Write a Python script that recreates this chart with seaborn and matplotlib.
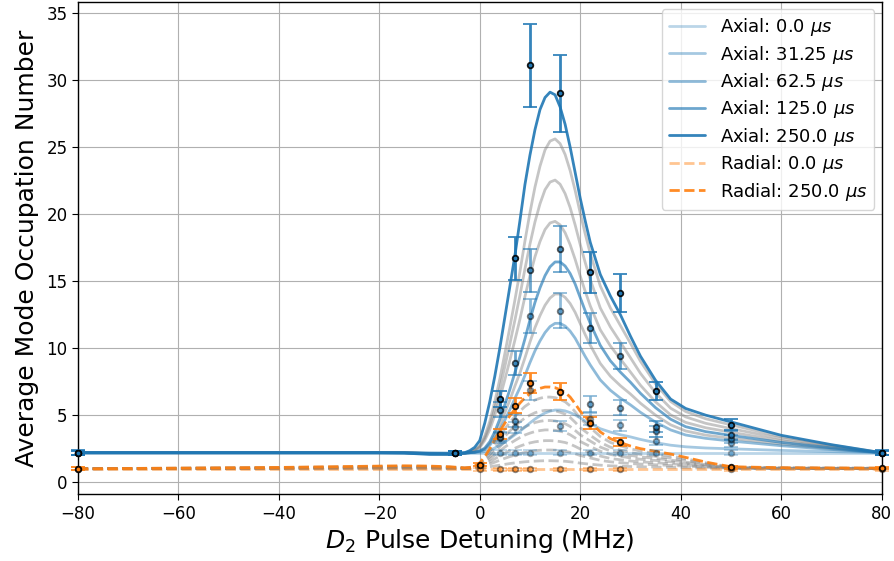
import numpy as np
import pandas as pd
import matplotlib
matplotlib.use("Agg")
import matplotlib.pyplot as plt
import seaborn as sns

# ---------------- model curves ----------------
model_x = [-80, -40, -20, -15, -10, -6, -3, -2, -1, 0, 1, 2, 3, 4, 5, 6, 7, 8, 9, 10,
           11, 12, 13, 14, 15, 16, 17, 18, 19, 20, 21, 22, 24, 26, 28, 30, 32, 35, 38,
           41, 45, 50, 60, 70, 80]

axial_times = [0.0, 31.25, 62.5, 93.75, 125.0, 156.25, 187.5, 218.75, 250.0]
axial_labeled = [0.0, 31.25, 62.5, 125.0, 250.0]

axial_0 = [2.2] * 45
axial_31 = [2.2, 2.2, 2.2, 2.2, 2.19, 2.18, 2.19, 2.2, 2.21, 2.23, 2.28, 2.38, 2.55, 2.76, 3.0,
            3.26, 3.54, 3.8, 4.1, 4.42, 4.71, 4.95, 5.16, 5.3, 5.38, 5.38, 5.32, 5.19, 5.02, 4.79,
            4.57, 4.36, 3.99, 3.74, 3.54, 3.38, 3.19, 2.95, 2.76, 2.64, 2.55, 2.49, 2.37, 2.28, 2.2]
axial_62 = [2.2, 2.2, 2.2, 2.2, 2.16, 2.15, 2.17, 2.2, 2.23, 2.3, 2.43, 2.75, 3.27, 3.91, 4.63,
            5.4, 6.25, 7.05, 7.96, 8.92, 9.8, 10.54, 11.16, 11.61, 11.85, 11.85, 11.65, 11.27, 10.74, 10.06,
            9.38, 8.75, 7.63, 6.86, 6.27, 5.77, 5.21, 4.48, 3.9, 3.52, 3.27, 3.07, 2.72, 2.44, 2.2]
axial_93 = [2.2, 2.2, 2.2, 2.2, 2.15, 2.14, 2.16, 2.2, 2.24, 2.32, 2.49, 2.88, 3.51, 4.29, 5.18,
            6.13, 7.17, 8.15, 9.27, 10.45, 11.53, 12.43, 13.2, 13.74, 14.04, 14.04, 13.79, 13.33, 12.67, 11.84,
            11.01, 10.23, 8.86, 7.91, 7.2, 6.58, 5.89, 5.0, 4.28, 3.82, 3.51, 3.27, 2.84, 2.5, 2.2]
axial_125 = [2.2, 2.2, 2.2, 2.2, 2.14, 2.13, 2.16, 2.2, 2.24, 2.34, 2.54, 3.02, 3.77, 4.72, 5.78,
             6.92, 8.18, 9.35, 10.69, 12.11, 13.41, 14.5, 15.41, 16.07, 16.43, 16.43, 16.13, 15.57, 14.78, 13.78,
             12.78, 11.85, 10.21, 9.06, 8.21, 7.46, 6.63, 5.56, 4.7, 4.14, 3.77, 3.49, 2.97, 2.56, 2.2]
axial_156 = [2.2, 2.2, 2.2, 2.2, 2.13, 2.11, 2.17, 2.25, 2.36, 2.58, 3.12, 3.92, 5.0, 6.25, 7.65,
             9.09, 10.59, 12.15, 13.84, 15.41, 16.82, 17.96, 18.85, 19.34, 19.46, 19.2, 18.61, 17.72, 16.62, 15.39,
             14.24, 13.16, 11.37, 10.17, 9.19, 8.22, 7.23, 5.99, 5.02, 4.46, 4.06, 3.73, 3.09, 2.62, 2.2]
axial_187 = [2.2, 2.2, 2.2, 2.2, 2.12, 2.1, 2.16, 2.26, 2.38, 2.65, 3.29, 4.23, 5.5, 6.98, 8.62,
             10.32, 12.08, 13.93, 15.91, 17.76, 19.42, 20.77, 21.82, 22.39, 22.54, 22.23, 21.53, 20.49, 19.19, 17.74,
             16.39, 15.12, 13.0, 11.59, 10.44, 9.29, 8.12, 6.67, 5.52, 4.87, 4.39, 4.0, 3.25, 2.69, 2.2]
axial_218 = [2.2, 2.2, 2.2, 2.2, 2.11, 2.08, 2.15, 2.27, 2.41, 2.72, 3.45, 4.54, 6.0, 7.7, 9.59,
             11.55, 13.58, 15.7, 17.99, 20.11, 22.02, 23.58, 24.79, 25.45, 25.61, 25.26, 24.45, 23.25, 21.76, 20.09,
             18.53, 17.07, 14.64, 13.01, 11.69, 10.37, 9.02, 7.34, 6.02, 5.27, 4.73, 4.28, 3.4, 2.77, 2.2]
axial_250 = [2.2, 2.2, 2.2, 2.17, 2.07, 2.07, 2.2, 2.35, 2.6, 3.1, 4.4, 6.0, 7.9, 10.0, 12.3,
             14.6, 16.9, 19.5, 22.2, 24.4, 26.3, 27.8, 28.7, 29.1, 28.9, 28.0, 26.7, 25.0, 23.1, 21.2,
             19.5, 17.9, 15.5, 13.9, 12.5, 10.9, 9.4, 7.6, 6.2, 5.5, 5.0, 4.5, 3.5, 2.8, 2.2]

radial_0 = [0.97] * 45
radial_31 = [1.0, 1.01, 1.02, 1.02, 1.02, 1.01, 1.01, 1.01, 1.02, 1.04, 1.09, 1.15, 1.21, 1.27, 1.33,
             1.39, 1.44, 1.48, 1.52, 1.55, 1.57, 1.59, 1.6, 1.6, 1.59, 1.58, 1.56, 1.52, 1.48, 1.42,
             1.38, 1.34, 1.27, 1.22, 1.19, 1.17, 1.15, 1.13, 1.11, 1.08, 1.05, 1.01, 1.01, 1.01, 1.0]
radial_62 = [1.0, 1.02, 1.05, 1.05, 1.05, 1.03, 1.02, 1.02, 1.05, 1.1, 1.21, 1.35, 1.49, 1.64, 1.78,
             1.91, 2.02, 2.13, 2.22, 2.29, 2.35, 2.38, 2.4, 2.4, 2.39, 2.36, 2.31, 2.23, 2.12, 1.99,
             1.9, 1.81, 1.63, 1.52, 1.45, 1.39, 1.35, 1.3, 1.25, 1.2, 1.12, 1.03, 1.02, 1.01, 1.01]
radial_93 = [1.0, 1.03, 1.07, 1.08, 1.07, 1.05, 1.02, 1.03, 1.07, 1.15, 1.31, 1.52, 1.74, 1.96, 2.17,
             2.36, 2.53, 2.69, 2.82, 2.93, 3.01, 3.06, 3.1, 3.1, 3.08, 3.03, 2.96, 2.84, 2.67, 2.48,
             2.34, 2.2, 1.95, 1.77, 1.67, 1.58, 1.52, 1.45, 1.38, 1.29, 1.17, 1.05, 1.03, 1.02, 1.02]
radial_125 = [1.0, 1.05, 1.1, 1.1, 1.1, 1.07, 1.03, 1.05, 1.1, 1.21, 1.43, 1.71, 2.02, 2.33, 2.62,
              2.88, 3.11, 3.33, 3.52, 3.66, 3.78, 3.85, 3.9, 3.9, 3.87, 3.8, 3.71, 3.54, 3.3, 3.04,
              2.85, 2.66, 2.31, 2.07, 1.93, 1.81, 1.71, 1.62, 1.52, 1.4, 1.24, 1.07, 1.04, 1.03, 1.02]
radial_156 = [1.0, 1.06, 1.12, 1.13, 1.12, 1.09, 1.04, 1.06, 1.12, 1.27, 1.53, 1.89, 2.27, 2.65, 3.01,
              3.33, 3.63, 3.89, 4.13, 4.3, 4.45, 4.54, 4.6, 4.6, 4.57, 4.48, 4.36, 4.16, 3.86, 3.54,
              3.3, 3.07, 2.62, 2.33, 2.15, 2.0, 1.89, 1.77, 1.65, 1.5, 1.3, 1.09, 1.05, 1.04, 1.03]
radial_187 = [1.0, 1.07, 1.14, 1.16, 1.14, 1.11, 1.05, 1.07, 1.14, 1.32, 1.64, 2.07, 2.54, 3.0, 3.43,
              3.82, 4.18, 4.5, 4.79, 5.0, 5.18, 5.29, 5.36, 5.36, 5.33, 5.22, 5.08, 4.83, 4.47, 4.07,
              3.79, 3.5, 2.97, 2.61, 2.39, 2.22, 2.07, 1.93, 1.79, 1.61, 1.36, 1.11, 1.06, 1.04, 1.04]
radial_218 = [1.0, 1.09, 1.18, 1.19, 1.18, 1.13, 1.06, 1.09, 1.18, 1.39, 1.79, 2.32, 2.89, 3.46, 3.98,
              4.46, 4.9, 5.3, 5.65, 5.91, 6.13, 6.26, 6.35, 6.35, 6.31, 6.17, 6.0, 5.69, 5.25, 4.77,
              4.42, 4.07, 3.41, 2.97, 2.71, 2.49, 2.32, 2.14, 1.96, 1.75, 1.44, 1.13, 1.07, 1.05, 1.04]
radial_250 = [1.0, 1.1, 1.2, 1.22, 1.2, 1.15, 1.07, 1.1, 1.2, 1.45, 1.9, 2.5, 3.15, 3.8, 4.4,
              4.95, 5.45, 5.9, 6.3, 6.6, 6.85, 7.0, 7.1, 7.1, 7.05, 6.9, 6.7, 6.35, 5.85, 5.3,
              4.9, 4.5, 3.75, 3.25, 2.95, 2.7, 2.5, 2.3, 2.1, 1.85, 1.5, 1.15, 1.08, 1.06, 1.05]

# ---------------- measured points ----------------
axial_data_x = [-80, -5, 4, 7, 10, 16, 22, 28, 35, 50, 80]
axial_data_0 = [2.2, 2.15, 2.2, 2.2, 2.2, 2.2, 2.2, 2.2, 2.2, 2.2, 2.2]
axial_err_0 = [0.15, 0.15, 0.2, 0.2, 0.2, 0.2, 0.2, 0.2, 0.2, 0.2, 0.15]
axial_data_31 = [2.2, 2.15, 3.3, 4.1, 6.85, 4.2, 4.7, 4.25, 3.05, 2.9, 2.2]
axial_err_31 = [0.15, 0.15, 0.35, 0.4, 0.7, 0.4, 0.45, 0.4, 0.3, 0.3, 0.15]
axial_data_62 = [2.2, 2.15, 3.4, 4.6, 12.4, 12.8, 5.85, 5.55, 3.8, 3.2, 2.2]
axial_err_62 = [0.15, 0.15, 0.35, 0.45, 1.25, 1.3, 0.6, 0.55, 0.4, 0.3, 0.15]
axial_data_125 = [2.2, 2.15, 5.4, 8.9, 15.8, 17.4, 11.5, 9.4, 4.15, 3.5, 2.2]
axial_err_125 = [0.15, 0.15, 0.55, 0.9, 1.6, 1.75, 1.15, 0.95, 0.4, 0.35, 0.15]
axial_data_250 = [2.2, 2.15, 6.2, 16.7, 31.1, 29.0, 15.65, 14.1, 6.8, 4.3, 2.2]
axial_err_250 = [0.2, 0.15, 0.6, 1.6, 3.1, 2.9, 1.55, 1.4, 0.7, 0.4, 0.2]

radial_data_x = [-80, 0, 4, 7, 10, 16, 22, 28, 50, 80]
radial_data_0 = [1.0, 0.97, 0.97, 0.97, 0.97, 0.97, 0.97, 0.97, 0.97, 0.97]
radial_err_0 = [0.1, 0.1, 0.1, 0.1, 0.1, 0.1, 0.1, 0.1, 0.1, 0.1]
radial_data_250 = [1.0, 1.3, 3.6, 5.7, 7.4, 6.75, 4.4, 3.0, 1.1, 1.05]
radial_err_250 = [0.1, 0.13, 0.35, 0.55, 0.75, 0.65, 0.45, 0.3, 0.1, 0.1]

axial_alphas = {0.0: 0.3, 31.25: 0.4, 62.5: 0.5, 125.0: 0.65, 250.0: 0.9}
radial_alphas = {0.0: 0.45, 250.0: 0.9}

# ---------------- figure ----------------
sns.set_style("white")
plt.rcParams['font.family'] = ['DejaVu Sans']
plt.rcParams['mathtext.fontset'] = 'dejavusans'
for key in ['text.color', 'axes.labelcolor', 'xtick.color', 'ytick.color']:
    plt.rcParams[key] = 'black'

fig = plt.figure(figsize=(8.95, 5.61), dpi=100)
ax = fig.add_axes([0.087, 0.119, 0.898, 0.878])

axial_curves = [axial_0, axial_31, axial_62, axial_93, axial_125, axial_156, axial_187, axial_218, axial_250]
radial_curves = [radial_0, radial_31, radial_62, radial_93, radial_125, radial_156, radial_187, radial_218, radial_250]

blue = "#1f77b4"
orange = "#ff7f0e"

# gray curves first
for t, yv in zip(axial_times, axial_curves):
    if t not in axial_labeled:
        sns.lineplot(x=model_x, y=yv, ax=ax, color="gray", alpha=0.45, lw=2, sort=False,
                     estimator=None, zorder=2)
for t, yv in zip(axial_times, radial_curves):
    if t not in radial_alphas:
        sns.lineplot(x=model_x, y=yv, ax=ax, color="gray", alpha=0.45, lw=2, sort=False,
                     estimator=None, zorder=2)
        ax.lines[-1].set_linestyle("--")

handles = []
labels = []
for t, yv in zip(axial_times, axial_curves):
    if t in axial_labeled:
        sns.lineplot(x=model_x, y=yv, ax=ax, color=blue, alpha=axial_alphas[t], lw=2,
                     sort=False, estimator=None, zorder=3)
        handles.append(ax.lines[-1])
        labels.append(f"Axial: {t} $\\mu s$")
for t, yv in zip(axial_times, radial_curves):
    if t in radial_alphas:
        sns.lineplot(x=model_x, y=yv, ax=ax, color=orange, alpha=radial_alphas[t], lw=2,
                     sort=False, estimator=None, zorder=3)
        ax.lines[-1].set_linestyle("--")
        handles.append(ax.lines[-1])
        labels.append(f"Radial: {t} $\\mu s$")

# measured points
axial_sets = [(0.0, axial_data_0, axial_err_0), (31.25, axial_data_31, axial_err_31),
              (62.5, axial_data_62, axial_err_62), (125.0, axial_data_125, axial_err_125),
              (250.0, axial_data_250, axial_err_250)]
for t, yv, ev in axial_sets:
    ax.errorbar(axial_data_x, yv, yerr=ev, fmt="o", color=blue, alpha=axial_alphas[t],
                mec="black", mew=1.3, ms=4, capsize=5, elinewidth=2, capthick=1.5, zorder=4,
                clip_on=False)
radial_sets = [(0.0, radial_data_0, radial_err_0), (250.0, radial_data_250, radial_err_250)]
for t, yv, ev in radial_sets:
    ax.errorbar(radial_data_x, yv, yerr=ev, fmt="o", color=orange, alpha=radial_alphas[t],
                mec="black", mew=1.3, ms=4, capsize=5, elinewidth=2, capthick=1.5, zorder=4,
                clip_on=False)

ax.set_xlim(-80, 80)
ax.set_ylim(-0.9, 35.85)
ax.set_xticks([-80, -60, -40, -20, 0, 20, 40, 60, 80])
ax.set_yticks([0, 5, 10, 15, 20, 25, 30, 35])
ax.grid(True, color="#b0b0b0", lw=0.8)
ax.tick_params(axis="both", which="major", labelsize=12, direction="out", length=4,
               bottom=True, left=True, colors="black")
for s in ax.spines.values():
    s.set_color("black")
    s.set_linewidth(1.0)
ax.set_xlabel("$D_2$ Pulse Detuning (MHz)", fontsize=18, labelpad=3)
ax.set_ylabel("Average Mode Occupation Number", fontsize=18, labelpad=5)

ax.legend(handles, labels, loc="upper right", fontsize=13, framealpha=0.8,
          labelspacing=0.3, borderaxespad=0.4)

fig.savefig("out.png", dpi=100)
